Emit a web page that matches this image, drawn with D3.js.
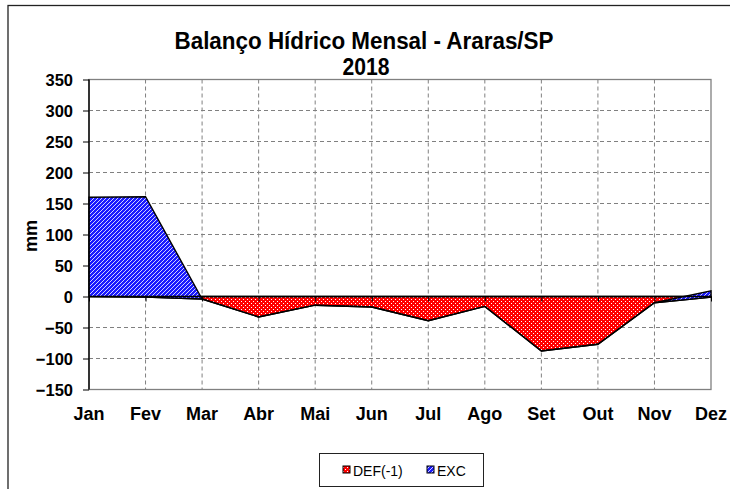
<!DOCTYPE html>
<html><head><meta charset="utf-8">
<script src="https://cdn.jsdelivr.net/npm/d3@7"></script>
<style>
html,body{margin:0;padding:0;background:#fff;}
svg{display:block;font-family:"Liberation Sans",Arial,sans-serif;}
</style></head>
<body>
<svg id="chart" width="730" height="489"></svg>
<script>
const months = ["Jan","Fev","Mar","Abr","Mai","Jun","Jul","Ago","Set","Out","Nov","Dez"];
const defValues = [0,-1,-4,-33,-14,-17,-39,-16,-88,-77,-10,-1];
const excValues = [160,162,0,0,0,0,0,0,0,0,0,10];
const yTicks = [-150,-100,-50,0,50,100,150,200,250,300,350];
const seriesNames = ["DEF(-1)","EXC"];
const titleLines = ["Balanço Hídrico Mensal - Araras/SP","2018"];
const yLabel = "mm";

const svg = d3.select("#chart");
const m = {left:89, right:711, top:79.5, bottom:389.5};

const x = d3.scalePoint().domain(months).range([m.left, m.right]);
const y = d3.scaleLinear().domain([-150,350]).range([m.bottom, m.top]);

const defs = svg.append("defs");
const pr = defs.append("pattern").attr("id","pRed").attr("patternUnits","userSpaceOnUse")
  .attr("width",4).attr("height",4);
pr.append("rect").attr("width",4).attr("height",4).attr("fill","#ff0000").attr("shape-rendering","crispEdges");
pr.append("rect").attr("x",1).attr("y",1).attr("width",1).attr("height",1).attr("fill","#fff").attr("shape-rendering","crispEdges");
pr.append("rect").attr("x",3).attr("y",3).attr("width",1).attr("height",1).attr("fill","#fff").attr("shape-rendering","crispEdges");
const pb = defs.append("pattern").attr("id","pBlue").attr("patternUnits","userSpaceOnUse")
  .attr("width",4).attr("height",4);
pb.append("rect").attr("width",4).attr("height",4).attr("fill","#1a1aff");
pb.append("path").attr("d","M-1,5 L5,-1 M-1,1 L1,-1 M3,5 L5,3")
  .attr("stroke","#fff").attr("stroke-width",0.8);

// outer chart border
svg.append("rect").attr("x",8).attr("y",5.5).attr("width",740).attr("height",500)
  .attr("fill","none").attr("stroke","#222").attr("stroke-width",1.3);

// title
svg.append("text").attr("x",364).attr("y",49).attr("text-anchor","middle")
  .attr("font-size",23).attr("font-weight","bold")
  .attr("textLength",379).attr("lengthAdjust","spacingAndGlyphs").text(titleLines[0]);
svg.append("text").attr("x",366).attr("y",75).attr("text-anchor","middle")
  .attr("font-size",23).attr("font-weight","bold")
  .attr("textLength",47).attr("lengthAdjust","spacingAndGlyphs").text(titleLines[1]);

// grid
const g = svg.append("g");
g.selectAll(".hg").data(yTicks.filter(v=>v!==350 && v!==-150 && v!==0)).join("line")
  .attr("x1",m.left).attr("x2",m.right).attr("y1",d=>y(d)).attr("y2",d=>y(d))
  .attr("stroke","#808080").attr("stroke-width",1).attr("stroke-dasharray","4,3");
g.selectAll(".vg").data(months.slice(1,-1)).join("line")
  .attr("x1",d=>x(d)).attr("x2",d=>x(d)).attr("y1",m.top).attr("y2",m.bottom)
  .attr("stroke","#808080").attr("stroke-width",1).attr("stroke-dasharray","4,3");

// plot border (gray)
svg.append("rect").attr("x",m.left).attr("y",m.top).attr("width",m.right-m.left).attr("height",m.bottom-m.top)
  .attr("fill","none").attr("stroke","#808080").attr("stroke-width",1.3);

// stacked areas
const rows = months.map((mo,i)=>({month:mo, DEF:defValues[i], EXC:excValues[i]}));
const stack = d3.stack().keys(["DEF","EXC"]).offset(d3.stackOffsetNone).order(d3.stackOrderNone);
const series = stack(rows);
const area = d3.area().x(d=>x(d.data.month)).y0(d=>y(d[0])).y1(d=>y(d[1]));
const fills = ["url(#pRed)","url(#pBlue)"];
svg.selectAll(".area").data(series).join("path")
  .attr("d",area).attr("fill",(d,i)=>fills[i])
  .attr("stroke","#000").attr("stroke-width",1.4).attr("stroke-linejoin","miter");

// zero axis with ticks
const xAxis = d3.axisBottom(x).tickSize(5).tickFormat("");
const xa = svg.append("g").attr("transform",`translate(0,${y(0)})`).call(xAxis);
xa.select(".domain").attr("stroke","#000").attr("stroke-width",1.4).attr("d",`M${m.left},0H${m.right}`);
xa.selectAll(".tick line").attr("stroke","#000").attr("stroke-width",1);

// x labels at bottom
svg.selectAll(".xl").data(months).join("text")
  .attr("x",d=>x(d)).attr("y",420).attr("text-anchor","middle")
  .attr("font-size",18).attr("font-weight","bold").text(d=>d);

// y axis
const yAxis = d3.axisLeft(y).tickValues(yTicks).tickSize(6).tickPadding(10);
const ya = svg.append("g").attr("transform",`translate(${m.left},0)`).call(yAxis);
ya.select(".domain").attr("stroke","#000").attr("stroke-width",1.4).attr("d",`M0,${m.top}V${m.bottom}`);
ya.selectAll(".tick line").attr("stroke","#000").attr("stroke-width",1);
ya.selectAll(".tick text").attr("font-size",16.5).attr("font-weight","bold").attr("fill","#000")
  .attr("font-family","'Liberation Sans',Arial,sans-serif").attr("dy","0.36em");

// y label
svg.append("text").attr("transform","translate(37,236) rotate(-90)").attr("text-anchor","middle")
  .attr("font-size",18).attr("font-weight","bold").text(yLabel);

// legend
const lg = svg.append("g");
lg.append("rect").attr("x",319.5).attr("y",453.5).attr("width",164).attr("height",33)
  .attr("fill","#fff").attr("stroke","#222").attr("stroke-width",1);
const legX = [343,427];
seriesNames.forEach((nm,i)=>{
  lg.append("rect").attr("x",legX[i]).attr("y",466).attr("width",7).attr("height",7)
    .attr("fill",fills[i]).attr("stroke","#000").attr("stroke-width",1);
  lg.append("text").attr("x",legX[i]+10).attr("y",475.5).attr("font-size",14).text(nm);
});
</script>
</body></html>
